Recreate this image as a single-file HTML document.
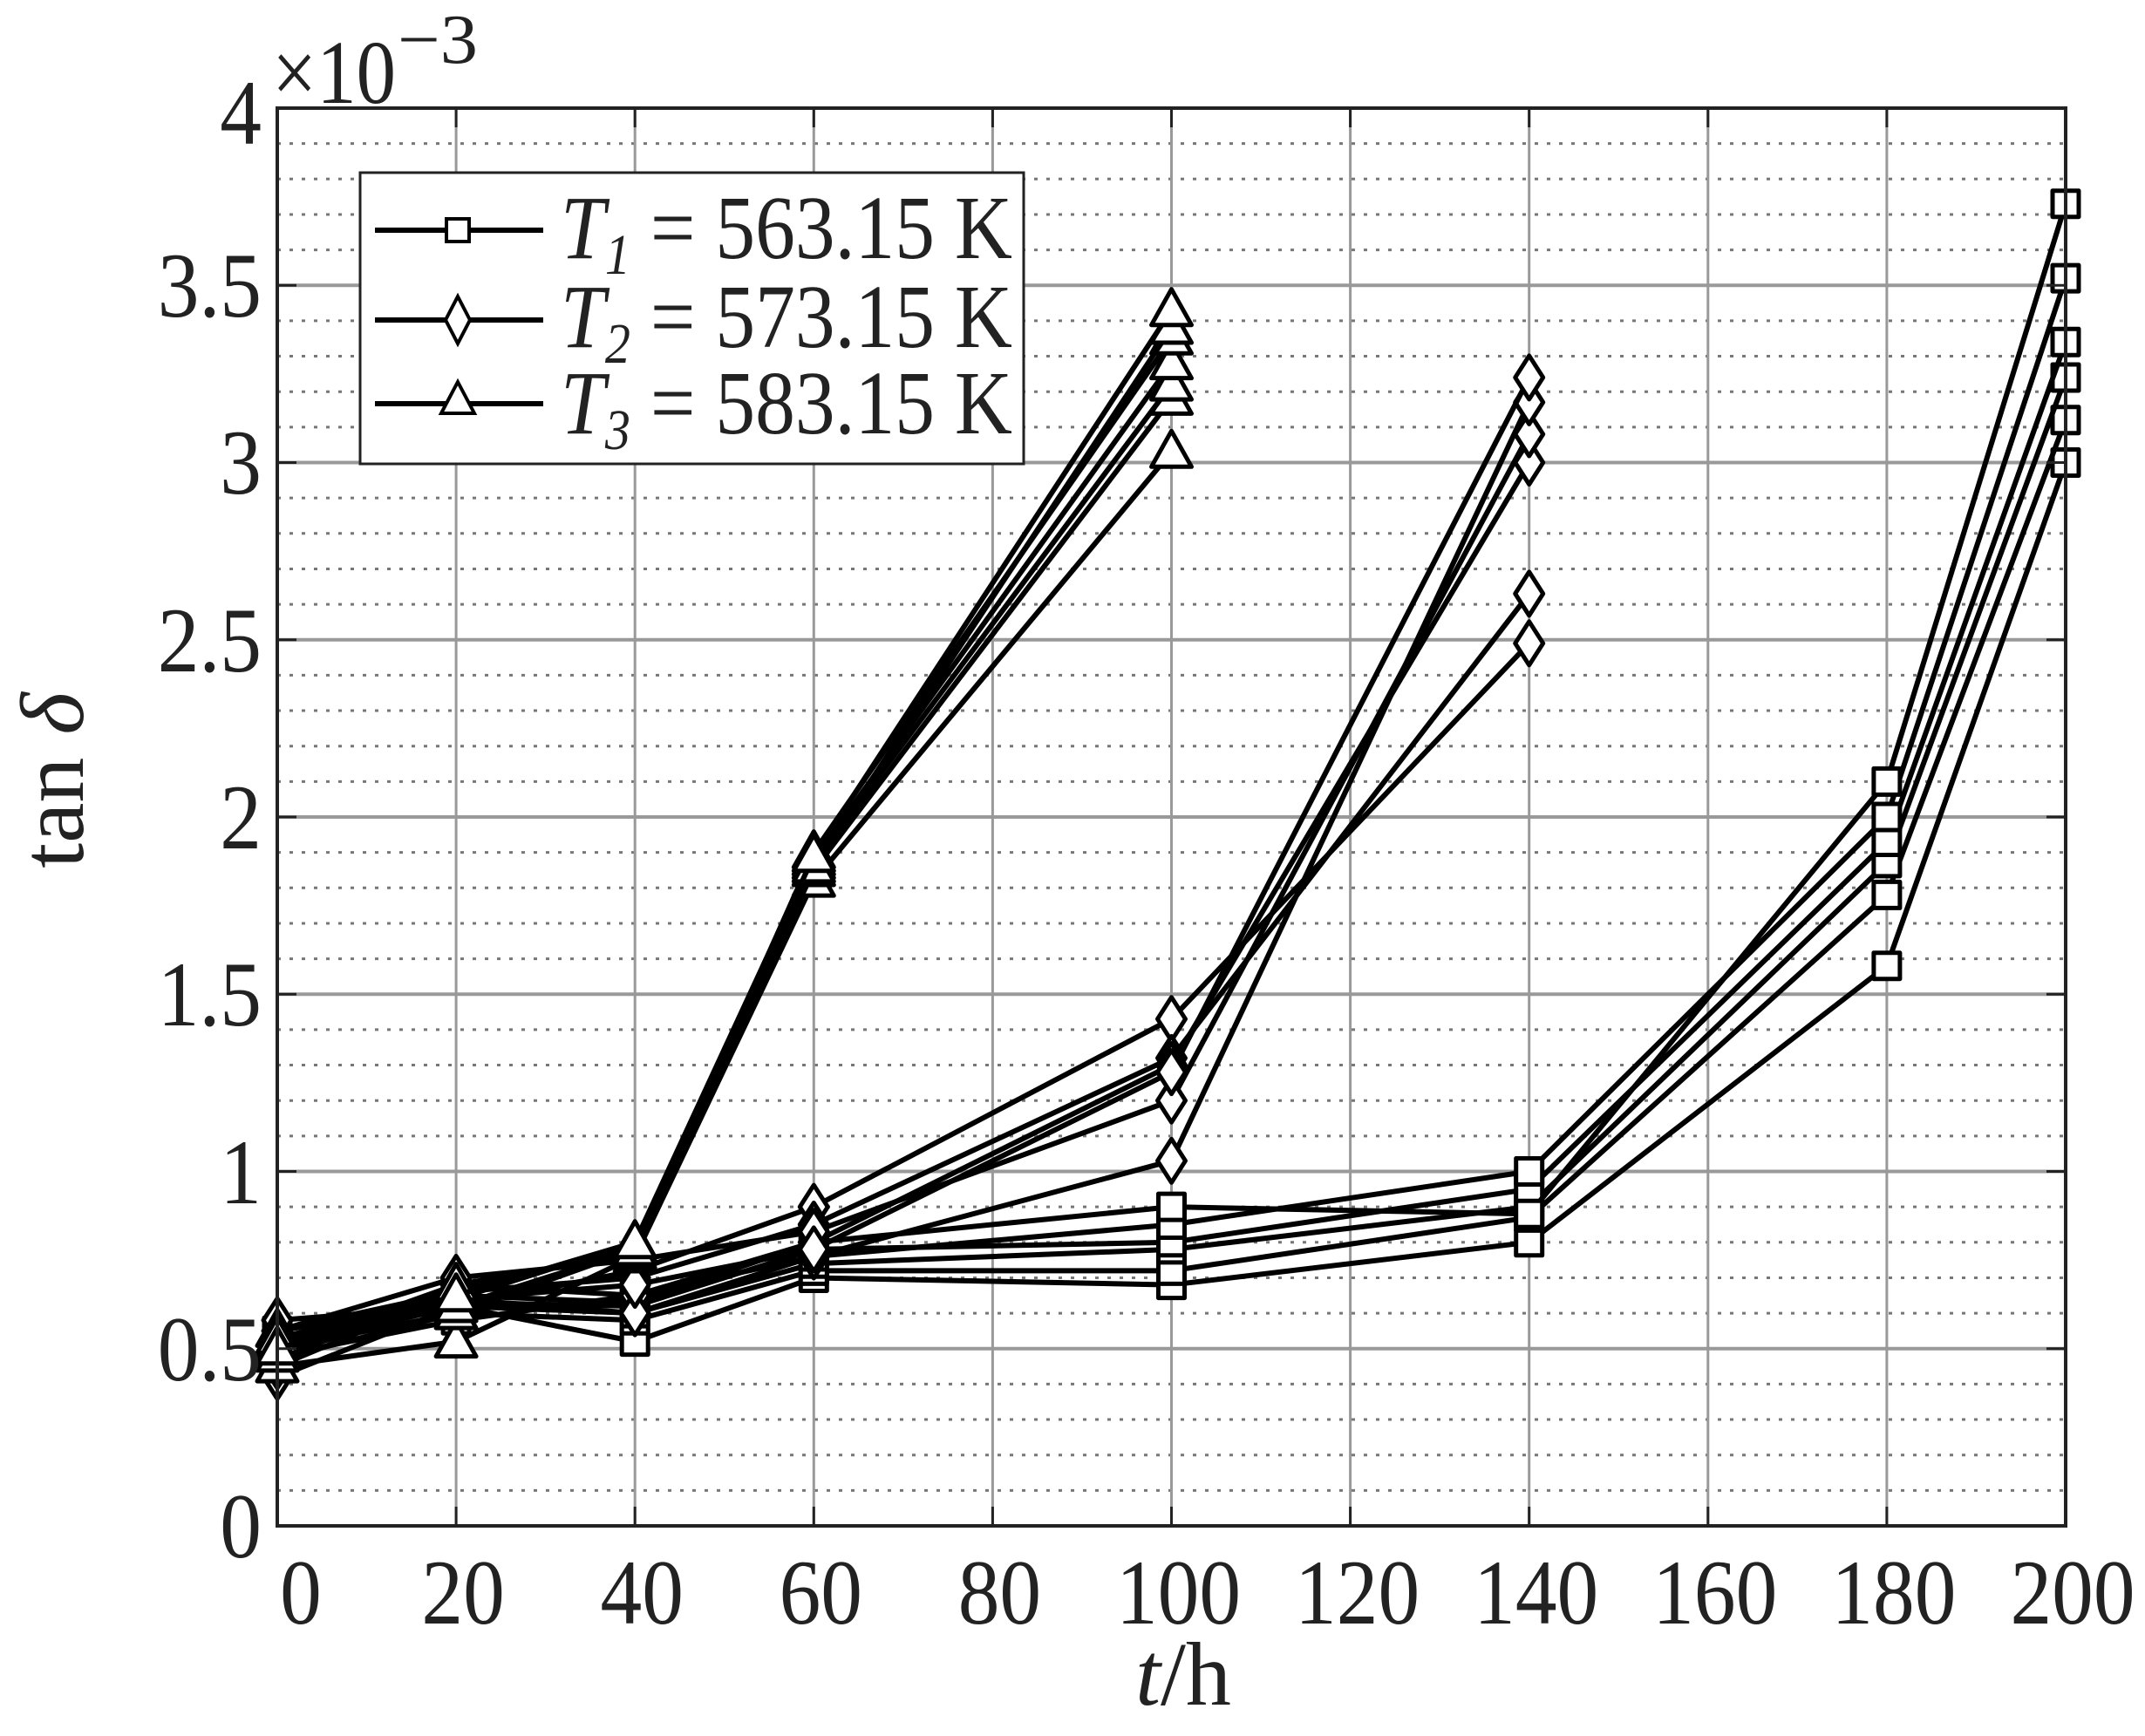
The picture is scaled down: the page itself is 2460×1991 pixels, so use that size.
<!DOCTYPE html>
<html><head><meta charset="utf-8"><style>
html,body{margin:0;padding:0;background:#fff;}
svg{display:block;}
text{font-family:"Liberation Serif",serif;fill:#222;}
</style></head><body>
<svg id="s" width="2460" height="1991" viewBox="0 0 2460 1991" xmlns="http://www.w3.org/2000/svg">
<rect width="2460" height="1991" fill="#fff"/>
<g id="grid"></g>
<g id="data" fill="none" stroke="#000" stroke-width="6" stroke-linejoin="round"></g>
<rect x="318" y="124" width="2051" height="1626" fill="none" stroke="#222" stroke-width="4"/>
<g id="ticks" stroke="#222" stroke-width="3"></g>
<g font-size="106" text-anchor="end">
<text x="300" y="1786" transform="translate(300 0) scale(0.9 1) translate(-300 0)">0</text>
<text x="300" y="1583" transform="translate(300 0) scale(0.9 1) translate(-300 0)">0.5</text>
<text x="300" y="1380" transform="translate(300 0) scale(0.9 1) translate(-300 0)">1</text>
<text x="300" y="1176" transform="translate(300 0) scale(0.9 1) translate(-300 0)">1.5</text>
<text x="300" y="973" transform="translate(300 0) scale(0.9 1) translate(-300 0)">2</text>
<text x="300" y="770" transform="translate(300 0) scale(0.9 1) translate(-300 0)">2.5</text>
<text x="300" y="566" transform="translate(300 0) scale(0.9 1) translate(-300 0)">3</text>
<text x="300" y="363" transform="translate(300 0) scale(0.9 1) translate(-300 0)">3.5</text>
<text x="300" y="165" transform="translate(300 0) scale(0.9 1) translate(-300 0)">4</text>
</g>
<text x="312" y="118" font-size="104" textLength="142" lengthAdjust="spacingAndGlyphs">×10</text>
<text x="456" y="72" font-size="80" textLength="92" lengthAdjust="spacingAndGlyphs">−3</text>
<g font-size="106" text-anchor="middle" id="xl"></g>
<text x="1357" y="1955" font-size="104" text-anchor="middle"><tspan font-style="italic">t</tspan>/h</text>
<text transform="translate(95 895) rotate(-90)" font-size="104" text-anchor="middle">tan <tspan font-style="italic">δ</tspan></text>
<rect x="413" y="198" width="761" height="334" fill="#fff" stroke="#222" stroke-width="3"/>
<g stroke="#000" stroke-width="6" fill="none">
<line x1="430" y1="264" x2="623" y2="264"/><rect x="512" y="251" width="26" height="26" fill="#fff" stroke-width="4"/>
<line x1="430" y1="367" x2="623" y2="367"/><path d="M525 340 L539 367 L525 394 L511 367 Z" fill="#fff" stroke-width="4"/>
<line x1="430" y1="463" x2="623" y2="463"/><path d="M525 438 L544 474 L506 474 Z" fill="#fff" stroke-width="4"/>
</g>
<g font-size="104">
<text x="643" y="296" textLength="518" lengthAdjust="spacingAndGlyphs"><tspan font-style="italic">T</tspan><tspan font-style="italic" font-size="66" dy="18">1</tspan><tspan dy="-18"> = 563.15 K</tspan></text>
<text x="643" y="398" textLength="518" lengthAdjust="spacingAndGlyphs"><tspan font-style="italic">T</tspan><tspan font-style="italic" font-size="66" dy="18">2</tspan><tspan dy="-18"> = 573.15 K</tspan></text>
<text x="643" y="497" textLength="518" lengthAdjust="spacingAndGlyphs"><tspan font-style="italic">T</tspan><tspan font-style="italic" font-size="66" dy="18">3</tspan><tspan dy="-18"> = 583.15 K</tspan></text>
</g>
</svg>
<script>
var NS="http://www.w3.org/2000/svg";
function X(t){return 318+t*10.255;}
function Y(v){return 1750-v*406.5;}
function el(p,n,a){var e=document.createElementNS(NS,n);for(var k in a)e.setAttribute(k,a[k]);p.appendChild(e);return e;}
var g=document.getElementById('grid');
for(var i=1;i<40;i++){ if(i%5==0)continue; var y=1750-i*40.65;
 el(g,'line',{x1:318,x2:2369,y1:y,y2:y,stroke:'#777','stroke-width':3,'stroke-dasharray':'4 10'});}
for(var i=1;i<8;i++){var y=1750-i*203.25;el(g,'line',{x1:318,x2:2369,y1:y,y2:y,stroke:'#999','stroke-width':4});}
for(var i=1;i<10;i++){var x=X(i*20);el(g,'line',{x1:x,x2:x,y1:124,y2:1750,stroke:'#999','stroke-width':3});}
var tk=document.getElementById('ticks');
for(var i=1;i<10;i++){var x=X(i*20);el(tk,'line',{x1:x,x2:x,y1:1750,y2:1728});el(tk,'line',{x1:x,x2:x,y1:124,y2:146});}
for(var i=1;i<8;i++){var y=1750-i*203.25;el(tk,'line',{x1:318,x2:340,y1:y,y2:y});el(tk,'line',{x1:2347,x2:2369,y1:y,y2:y});}
var xl=document.getElementById('xl');
var xs=[0,20,40,60,80,100,120,140,160,180,200];
xs.forEach(function(t){var x=t==0?345:X(t)+8;var e=el(xl,'text',{x:x,y:1862,transform:'translate('+x+' 0) scale(0.9 1) translate('+(-x)+' 0)'});e.textContent=t;});
var d=document.getElementById('data');
function series(ts,vals,m){vals.forEach(function(vs){
 var pts=ts.map(function(t,i){return X(t)+','+Y(vs[i]);}).join(' ');
 el(d,'polyline',{points:pts});
 ts.forEach(function(t,i){var x=X(t),y=Y(vs[i]);
  if(m=='s')el(d,'rect',{x:x-15,y:y-15,width:30,height:30,fill:'#fff',"stroke-width":5});
  else if(m=='d')el(d,'path',{d:'M'+x+' '+(y-25)+'L'+(x+16)+' '+y+'L'+x+' '+(y+25)+'L'+(x-16)+' '+y+'Z',fill:'#fff',"stroke-width":5});
  else el(d,'path',{d:'M'+x+' '+(y-24)+'L'+(x+23)+' '+(y+17)+'L'+(x-23)+' '+(y+17)+'Z',fill:'#fff',"stroke-width":5});
 });});}
series([0,20,40,60,100,140,180,200],[
[0.50,0.62,0.52,0.70,0.68,0.80,1.58,3.00],
[0.47,0.60,0.58,0.72,0.72,0.87,1.78,3.12],
[0.52,0.64,0.60,0.74,0.78,0.90,1.87,3.24],
[0.55,0.63,0.62,0.78,0.80,0.95,1.93,3.34],
[0.48,0.58,0.65,0.76,0.85,1.00,2.00,3.52],
[0.53,0.65,0.63,0.80,0.90,0.88,2.10,3.73]],'s');
series([0,20,40,60,100,140],[
[0.42,0.62,0.72,0.90,1.43,2.49],
[0.45,0.66,0.70,0.85,1.32,2.63],
[0.50,0.68,0.65,0.80,1.30,3.00],
[0.55,0.70,0.75,0.83,1.20,3.08],
[0.58,0.62,0.60,0.76,1.03,3.17],
[0.48,0.64,0.68,0.78,1.28,3.24]],'d');
series([0,20,40,60,100],[
[0.45,0.52,0.76,1.82,3.03],
[0.50,0.60,0.78,1.85,3.18],
[0.52,0.64,0.80,1.87,3.22],
[0.55,0.66,0.79,1.88,3.28],
[0.48,0.68,0.77,1.90,3.35],
[0.53,0.62,0.78,1.86,3.38],
[0.50,0.65,0.80,1.89,3.43]],'t');
</script>
</body></html>
